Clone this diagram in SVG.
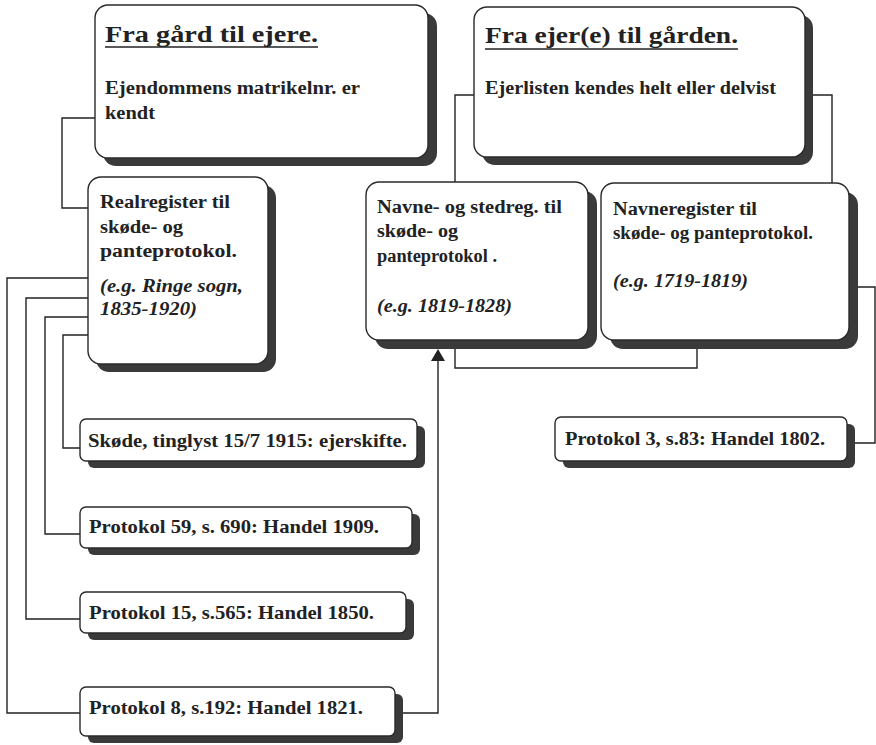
<svg xmlns="http://www.w3.org/2000/svg" width="876" height="745" viewBox="0 0 876 745">
<style>
.bg{fill:#ffffff}
.sh{fill:#3a3a3a}
.bx{fill:#ffffff;stroke:#2a2a2a;stroke-width:1.4}
.cn{fill:none;stroke:#222;stroke-width:1.4}
text{font-family:"Liberation Serif","Times New Roman",serif;font-weight:bold;fill:#222}
.t{font-size:23px}
.b{font-size:18px}
.s{font-size:19px}
.i{font-style:italic}
.ul{stroke:#222;stroke-width:1.6}
</style>
<defs>
<marker id="arr" markerWidth="14" markerHeight="12" refX="7" refY="0" orient="auto-start-reverse" markerUnits="userSpaceOnUse" viewBox="0 0 14 12">
<path d="M0,12 L7,0 L14,12 Z" fill="#222"/>
</marker>
</defs>
<rect class="bg" x="0" y="0" width="876" height="745"/>
<g id="connectors">
<path class="cn" d="M95,118 H62 V208 H88"/>
<path class="cn" d="M88,278 H7 V713 H80"/>
<path class="cn" d="M88,298 H26 V619 H80"/>
<path class="cn" d="M88,317 H45 V534 H80"/>
<path class="cn" d="M88,335 H63 V448 H80"/>
<path class="cn" d="M400,713 H438 V361"/>
<path d="M431,361 L438,349 L445,361 Z" fill="#222"/>
<path class="cn" d="M474,95 H455 V182"/>
<path class="cn" d="M805,95 H832 V183"/>
<path class="cn" d="M455,340 V368 H697 V340"/>
<path class="cn" d="M849,287 H875 V443 H850"/>
</g>
<g id="box-gard">
<rect class="sh" x="103" y="13" width="334" height="153" rx="13"/>
<rect class="bx" x="95" y="5" width="333" height="153" rx="13"/>
<text class="t" x="105" y="42" textLength="213" lengthAdjust="spacingAndGlyphs">Fra gård til ejere.</text>
<line class="ul" x1="105" y1="47" x2="318" y2="47"/>
<text class="b" x="105" y="94" textLength="255" lengthAdjust="spacingAndGlyphs">Ejendommens matrikelnr. er</text>
<text class="b" x="105" y="119" textLength="50" lengthAdjust="spacingAndGlyphs">kendt</text>
</g>
<g id="box-ejer">
<rect class="sh" x="482" y="15" width="331" height="150" rx="13"/>
<rect class="bx" x="474" y="7" width="331" height="150" rx="13"/>
<text class="t" x="485" y="43" textLength="253" lengthAdjust="spacingAndGlyphs">Fra ejer(e) til gården.</text>
<line class="ul" x1="485" y1="49" x2="738" y2="49"/>
<text class="b" x="485" y="94" textLength="291" lengthAdjust="spacingAndGlyphs">Ejerlisten kendes helt eller delvist</text>
</g>
<g id="box-realregister">
<rect class="sh" x="96" y="185" width="180" height="187" rx="13"/>
<rect class="bx" x="88" y="177" width="180" height="187" rx="13"/>
<text class="b" x="100" y="208" textLength="130" lengthAdjust="spacingAndGlyphs">Realregister til</text>
<text class="b" x="100" y="233" textLength="83" lengthAdjust="spacingAndGlyphs">skøde- og</text>
<text class="b" x="100" y="257" textLength="137" lengthAdjust="spacingAndGlyphs">panteprotokol.</text>
<text class="b i" x="100" y="292" textLength="143" lengthAdjust="spacingAndGlyphs">(e.g. Ringe sogn,</text>
<text class="b i" x="100" y="315" textLength="97" lengthAdjust="spacingAndGlyphs">1835-1920)</text>
</g>
<g id="box-navne-stedreg">
<rect class="sh" x="375" y="191" width="222" height="158" rx="13"/>
<rect class="bx" x="366" y="182" width="222" height="158" rx="13"/>
<text class="b" x="377" y="213" textLength="185" lengthAdjust="spacingAndGlyphs">Navne- og stedreg. til</text>
<text class="b" x="377" y="237" textLength="81" lengthAdjust="spacingAndGlyphs">skøde- og</text>
<text class="b" x="377" y="262" textLength="120" lengthAdjust="spacingAndGlyphs">panteprotokol .</text>
<text class="b i" x="377" y="312" textLength="135" lengthAdjust="spacingAndGlyphs">(e.g. 1819-1828)</text>
</g>
<g id="box-navneregister">
<rect class="sh" x="610" y="192" width="248" height="157" rx="13"/>
<rect class="bx" x="601" y="183" width="248" height="157" rx="13"/>
<text class="b" x="613" y="215" textLength="144" lengthAdjust="spacingAndGlyphs">Navneregister til</text>
<text class="b" x="613" y="239" textLength="200" lengthAdjust="spacingAndGlyphs">skøde- og panteprotokol.</text>
<text class="b i" x="613" y="287" textLength="135" lengthAdjust="spacingAndGlyphs">(e.g. 1719-1819)</text>
</g>
<g id="box-skode">
<rect class="sh" x="88" y="426" width="337" height="42" rx="6"/>
<rect class="bx" x="80" y="419" width="337" height="42" rx="6"/>
<text class="s" x="88" y="447" textLength="319" lengthAdjust="spacingAndGlyphs">Skøde, tinglyst 15/7 1915: ejerskifte.</text>
</g>
<g id="box-p59">
<rect class="sh" x="88" y="514" width="332" height="41" rx="6"/>
<rect class="bx" x="80" y="507" width="332" height="41" rx="6"/>
<text class="s" x="89" y="533" textLength="290" lengthAdjust="spacingAndGlyphs">Protokol 59, s. 690: Handel 1909.</text>
</g>
<g id="box-p15">
<rect class="sh" x="88" y="599" width="326" height="41" rx="6"/>
<rect class="bx" x="80" y="592" width="326" height="41" rx="6"/>
<text class="s" x="89" y="619" textLength="285" lengthAdjust="spacingAndGlyphs">Protokol 15, s.565: Handel 1850.</text>
</g>
<g id="box-p8">
<rect class="sh" x="88" y="694" width="315" height="49" rx="6"/>
<rect class="bx" x="80" y="687" width="315" height="49" rx="6"/>
<text class="s" x="89" y="714" textLength="274" lengthAdjust="spacingAndGlyphs">Protokol 8, s.192: Handel 1821.</text>
</g>
<g id="box-p3">
<rect class="sh" x="563" y="424" width="292" height="44" rx="6"/>
<rect class="bx" x="555" y="417" width="292" height="44" rx="6"/>
<text class="s" x="565" y="445" textLength="260" lengthAdjust="spacingAndGlyphs">Protokol 3, s.83: Handel 1802.</text>
</g>
</svg>
